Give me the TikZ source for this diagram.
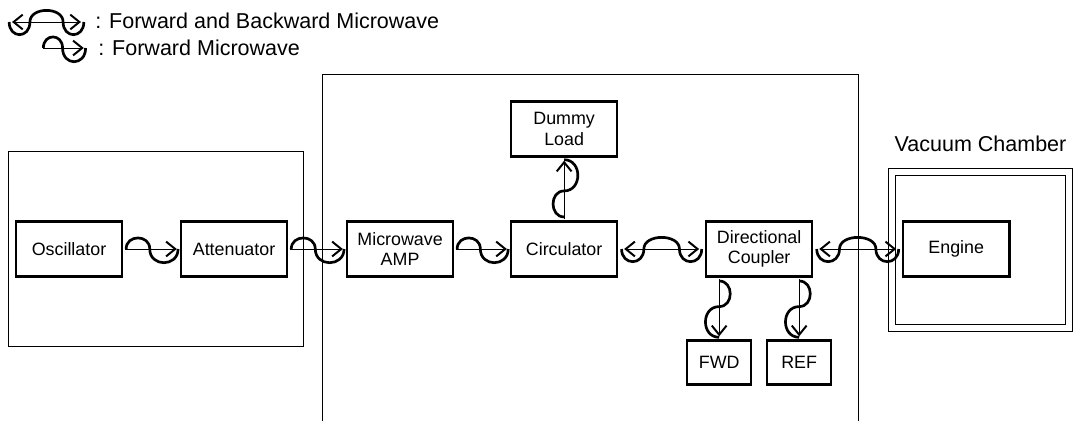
\documentclass[tikz,border=0pt]{standalone}
\usepackage{fontspec}
\setmainfont{Liberation Sans}
\usetikzlibrary{positioning, arrows.meta, calc}

\begin{document}
\begin{tikzpicture}[
  x=0.025cm, y=-0.025cm,
  every node/.style={font=\fontsize{12.7}{14.5}\selectfont},
  box/.style={
    rectangle, draw, line width=1.8pt,
    minimum width=2.65cm, minimum height=1.375cm,
    align=center, inner sep=2pt, outer sep=0pt
  },
  smallbox/.style={box, minimum width=1.6cm, minimum height=1.1cm},
  outline/.style={draw, line width=0.7pt},
  legendtext/.style={font=\fontsize{15.3}{18}\selectfont, anchor=west, inner sep=0pt},
  fwdline/.style={-{Straight Barb[length=6.5pt, width=10.5pt, line width=1.4pt]},
    line width=0.6pt, shorten <=2pt, shorten >=3pt},
  fbline/.style={{Straight Barb[length=6.5pt, width=10.5pt, line width=1.4pt]}-{Straight Barb[length=6.5pt, width=10.5pt, line width=1.4pt]},
    line width=0.6pt, shorten <=5pt, shorten >=5pt},
  fwdwave/.style={line width=1.9pt, to path={
    ($(\tikztostart)!.07!(\tikztotarget)$)
    .. controls ($(\tikztostart)!.07!(\tikztotarget)!10.5pt!90:(\tikztotarget)$)
            and ($(\tikztostart)!.47!(\tikztotarget)!10.5pt!90:(\tikztotarget)$)
    .. ($(\tikztostart)!.47!(\tikztotarget)$)
    .. controls ($(\tikztostart)!.47!(\tikztotarget)!13pt!-90:(\tikztotarget)$)
            and ($(\tikztostart)!.95!(\tikztotarget)!13pt!-90:(\tikztotarget)$)
    .. ($(\tikztostart)!.95!(\tikztotarget)$)}},
  fbwave/.style={line width=1.9pt, to path={
    ($(\tikztostart)!.05!(\tikztotarget)$)
    .. controls ($(\tikztostart)!.05!(\tikztotarget)!12pt!-90:(\tikztotarget)$)
            and ($(\tikztostart)!.3!(\tikztotarget)!12pt!-90:(\tikztotarget)$)
    .. ($(\tikztostart)!.3!(\tikztotarget)$)
    .. controls ($(\tikztostart)!.3!(\tikztotarget)!11pt!90:(\tikztotarget)$)
            and ($(\tikztostart)!.7!(\tikztotarget)!11pt!90:(\tikztotarget)$)
    .. ($(\tikztostart)!.7!(\tikztotarget)$)
    .. controls ($(\tikztostart)!.7!(\tikztotarget)!12pt!-90:(\tikztotarget)$)
            and ($(\tikztostart)!.95!(\tikztotarget)!12pt!-90:(\tikztotarget)$)
    .. ($(\tikztostart)!.95!(\tikztotarget)$)}}
]
\useasboundingbox (0,0) rectangle (1074,421);

% ── Legend ────────────────────────────────────────────────────────────────────
\coordinate (fbA) at (5,22);
\coordinate (fbB) at (88,22);
\draw[fbline] (fbA) -- (fbB);
\draw[fbwave] (fbA) to (fbB);
\node[legendtext] (fbtext) at (95,21) {: Forward and Backward Microwave};

\coordinate (fwA) at (40,48);
\coordinate (fwB) at (88,48);
\draw[fwdline] (fwA) -- (fwB);
\draw[fwdwave] (fwA) to (fwB);
\node[legendtext] (fwtext) at (98,48) {: Forward Microwave};

% ── Frames ────────────────────────────────────────────────────────────────────
\node[outline, minimum width=7.35cm, minimum height=4.85cm] (srcframe) at (156,249) {};
\draw[outline] (322,421) |- (858,74) -- (858,421);
\node[outline, line width=0.6pt, double, double distance=4.4pt,
      minimum width=4.425cm, minimum height=3.89cm]
  (vac) at (980.5,250) {};
\node[legendtext, anchor=south, above=0.5cm of vac] (vaclbl) {Vacuum Chamber};

% ── Main chain ────────────────────────────────────────────────────────────────
\node[box] (osc) at (69,249) {Oscillator};
\node[box, right=1.475cm of osc] (att) {Attenuator};
\node[box, right=1.5cm of att] (amp) {Microwave\\AMP};
\node[box, right=1.45cm of amp] (circ) {Circulator};
\node[box, right=2.225cm of circ] (dc) {Directional\\Coupler};
\node[box, right=2.275cm of dc] (engine) {Engine};

\node[box, above=1.625cm of circ] (dummy) {Dummy\\Load};
\node[smallbox, below=1.6cm of dc, xshift=-1cm] (fwd) {FWD};
\node[smallbox, right=0.4cm of fwd] (ref) {REF};

% forward waves
\draw[fwdline] (osc) -- (att);
\draw[fwdwave] (osc.east) to (att.west);
\draw[fwdline] (att) -- (amp);
\draw[fwdwave] (att.east) to (amp.west);
\draw[fwdline] (amp) -- (circ);
\draw[fwdwave] (amp.east) to (circ.west);
\draw[fwdline] (circ) -- (dummy);
\draw[fwdwave] (circ.north) to (dummy.south);
\draw[fwdline] (dc.south -| fwd) -- (fwd);
\draw[fwdwave] (dc.south -| fwd) to (fwd.north);
\draw[fwdline] (dc.south -| ref) -- (ref);
\draw[fwdwave] (dc.south -| ref) to (ref.north);

% forward and backward waves
\draw[fbline] (circ) -- (dc);
\draw[fbwave] (circ.east) to (dc.west);
\draw[fbline] (dc) -- (engine);
\draw[fbwave] (dc.east) to (engine.west);

\end{tikzpicture}
\end{document}
